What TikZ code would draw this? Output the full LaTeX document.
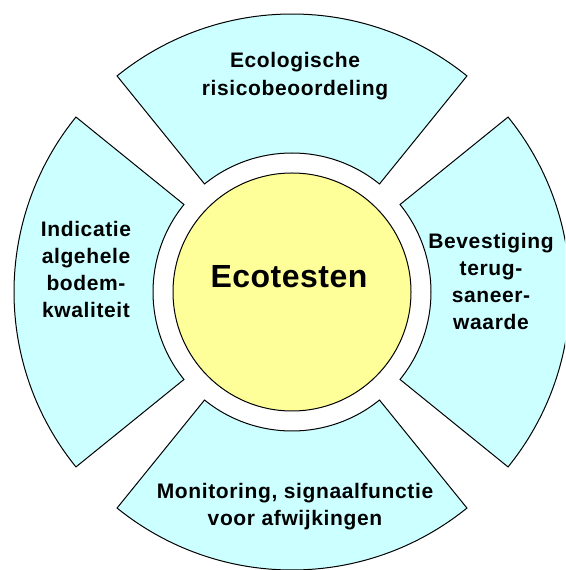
\documentclass[tikz,border=0pt]{standalone}
\usepackage{fontspec}
\setmainfont{Liberation Sans}
\newfontfamily\sectorfont[LetterSpace=3]{Liberation Sans}
\newfontfamily\corefont[LetterSpace=1.5]{Liberation Sans}
\definecolor{sectorfill}{HTML}{CCFFFF}
\definecolor{corefill}{HTML}{FFFF99}
\begin{document}
\begin{tikzpicture}[x=1pt,y=1pt,
  sector/.style={draw=black,line width=1pt,fill=sectorfill,line join=miter},
  core/.style={draw=black,line width=1pt,fill=corefill},
  sectorlabel/.style={font=\sectorfont\bfseries\fontsize{21}{27.3}\selectfont,align=center,inner sep=0pt},
  corelabel/.style={font=\corefont\bfseries\fontsize{32}{38}\selectfont,inner sep=0pt}]
\useasboundingbox (0,0) rectangle (565,570);
\clip (0,0) rectangle (565,570);
\coordinate (c) at (292,278);
\foreach \a/\b in {51/129, -39/39, 231/309, 141/219}{
  \draw[sector] ([shift={(\a:139)}]c) -- ([shift={(\a:278)}]c)
    arc[start angle=\a, end angle=\b, radius=278]
    -- ([shift={(\b:139)}]c)
    arc[start angle=\b, end angle=\a, radius=139] -- cycle;
}
\draw[core] (c) circle[radius=119];
\node[corelabel,anchor=base] (eco) at (289,282) {Ecotesten};
\node[sectorlabel] (top) at (295,494) {Ecologische\\risicobeoordeling};
\node[sectorlabel] (left) at (86,300.5) {Indicatie\\algehele\\bodem-\\kwaliteit};
\node[sectorlabel] (right) at (491,288.5) {Bevestiging\\terug-\\saneer-\\waarde};
\node[sectorlabel] (bottom) at (295,63.3) {Monitoring, signaalfunctie\\voor afwijkingen};
\end{tikzpicture}
\end{document}
